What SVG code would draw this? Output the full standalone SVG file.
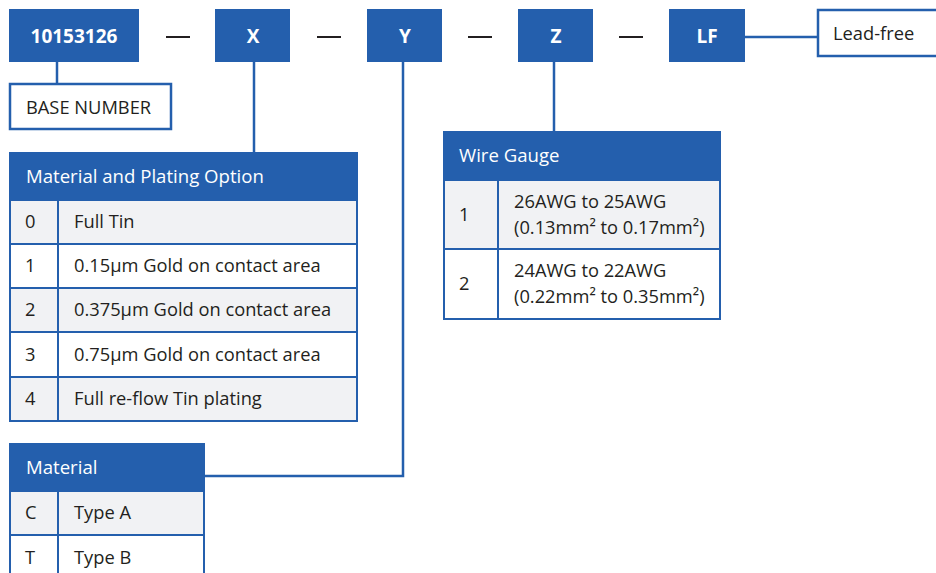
<svg xmlns="http://www.w3.org/2000/svg" width="936" height="573" viewBox="0 0 936 573">
<style>
.blk{fill:#245FAD}
.wt{fill:#fff;font-family:"Open Sans","Noto Sans",sans-serif;font-size:19px;font-weight:bold;text-anchor:middle}
.t{fill:#231F20;font-family:"Open Sans","Noto Sans",sans-serif;font-size:18.3px}
.h{fill:#fff;font-family:"Open Sans","Noto Sans",sans-serif;font-size:18.6px}
.cell{stroke:#245FAD;stroke-width:2}
.g{fill:#F1F2F4}
.w{fill:#fff}
.ln{stroke:#245FAD;stroke-width:2.5;fill:none}
.dash{stroke:#231F20;stroke-width:2}
</style>
<rect width="936" height="573" fill="#fff"/>
<g id="connectors">
<line class="ln" x1="57" y1="62" x2="57" y2="84"/>
<line class="ln" x1="254" y1="62" x2="254" y2="153"/>
<polyline class="ln" points="403,62 403,476 204,476"/>
<line class="ln" x1="554" y1="62" x2="554" y2="132"/>
<line class="ln" x1="745" y1="37" x2="818" y2="37"/>
</g>
<g id="dashes">
<line class="dash" x1="166" y1="37" x2="190" y2="37"/>
<line class="dash" x1="317" y1="37" x2="341" y2="37"/>
<line class="dash" x1="468" y1="37" x2="492" y2="37"/>
<line class="dash" x1="619" y1="37" x2="643" y2="37"/>
</g>
<g id="base"><rect class="blk" x="9" y="9" width="130" height="53"/><text class="wt" x="74" y="43">10153126</text></g>
<g id="x"><rect class="blk" x="215" y="9" width="75" height="53"/><text class="wt" x="253" y="43">X</text></g>
<g id="y"><rect class="blk" x="367" y="9" width="75" height="53"/><text class="wt" x="405" y="43">Y</text></g>
<g id="z"><rect class="blk" x="518" y="9" width="75" height="53"/><text class="wt" x="556" y="43">Z</text></g>
<g id="lf"><rect class="blk" x="669" y="9" width="76" height="53"/><text class="wt" x="707" y="43">LF</text></g>
<g id="leadfree"><rect x="818" y="10" width="130" height="46" fill="#fff" stroke="#245FAD" stroke-width="2.5"/><text class="t" x="833" y="40">Lead-free</text></g>
<g id="basenumber"><rect x="10" y="84" width="161" height="45" fill="#fff" stroke="#245FAD" stroke-width="2.5"/><text class="t" x="26" y="114">BASE NUMBER</text></g>
<g id="plating">
<rect class="blk" x="9" y="152" width="349" height="48"/>
<text class="h" x="26" y="183">Material and Plating Option</text>
<rect class="cell g" x="10" y="200" width="347" height="44"/>
<rect class="cell w" x="10" y="244" width="347" height="44"/>
<rect class="cell g" x="10" y="288" width="347" height="44"/>
<rect class="cell w" x="10" y="332" width="347" height="45"/>
<rect class="cell g" x="10" y="377" width="347" height="44"/>
<line class="cell" x1="58" y1="200" x2="58" y2="421"/>
<text class="t" x="25" y="228">0</text><text class="t" x="74" y="228">Full Tin</text>
<text class="t" x="25" y="272">1</text><text class="t" x="74" y="272">0.15µm Gold on contact area</text>
<text class="t" x="25" y="316">2</text><text class="t" x="74" y="316">0.375µm Gold on contact area</text>
<text class="t" x="25" y="361">3</text><text class="t" x="74" y="361">0.75µm Gold on contact area</text>
<text class="t" x="25" y="405">4</text><text class="t" x="74" y="405">Full re-flow Tin plating</text>
</g>
<g id="material">
<rect class="blk" x="9" y="443" width="196" height="48"/>
<text class="h" x="26" y="474">Material</text>
<rect class="cell g" x="10" y="491" width="194" height="44"/>
<rect class="cell w" x="10" y="535" width="194" height="44"/>
<line class="cell" x1="58" y1="491" x2="58" y2="580"/>
<text class="t" x="25" y="519">C</text><text class="t" x="74" y="519">Type A</text>
<text class="t" x="25" y="564">T</text><text class="t" x="74" y="564">Type B</text>
</g>
<g id="wiregauge">
<rect class="blk" x="443" y="131" width="278" height="49"/>
<text class="h" x="459" y="162">Wire Gauge</text>
<rect class="cell g" x="444" y="180" width="276" height="69"/>
<rect class="cell w" x="444" y="249" width="276" height="70"/>
<line class="cell" x1="498" y1="180" x2="498" y2="319"/>
<text class="t" x="459" y="221">1</text>
<text class="t" x="514" y="208">26AWG to 25AWG</text>
<text class="t" x="514" y="234">(0.13mm² to 0.17mm²)</text>
<text class="t" x="459" y="290">2</text>
<text class="t" x="514" y="277">24AWG to 22AWG</text>
<text class="t" x="514" y="303">(0.22mm² to 0.35mm²)</text>
</g>
</svg>
